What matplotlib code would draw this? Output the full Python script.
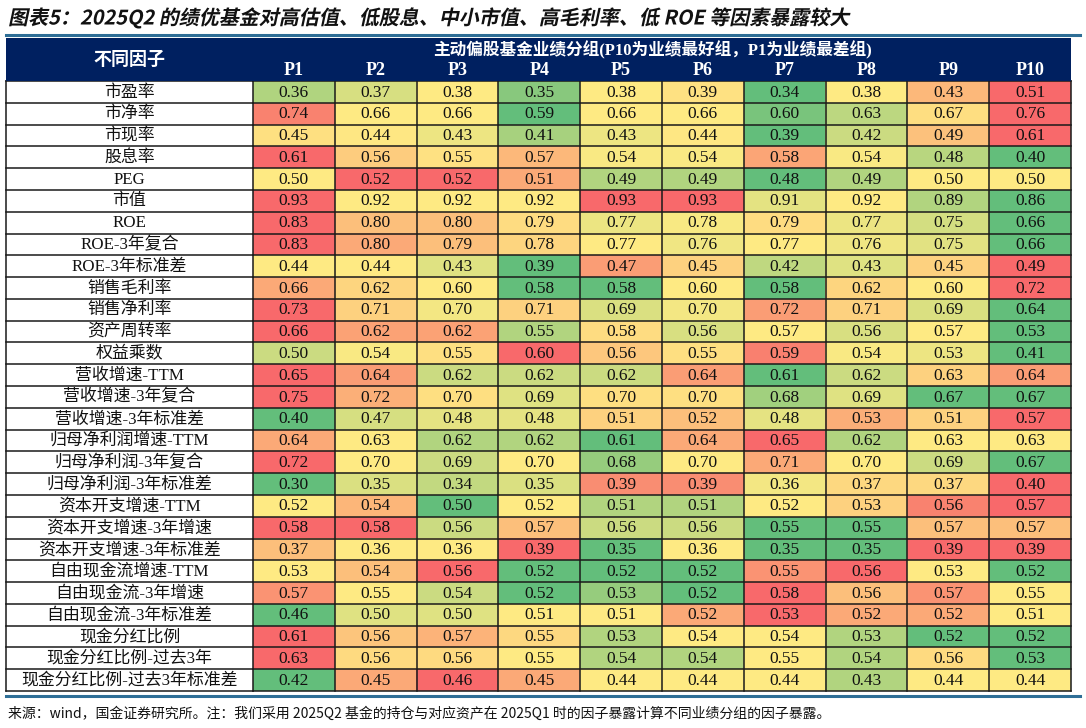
import numpy as np
import matplotlib
matplotlib.use("Agg")
import matplotlib.pyplot as plt
from matplotlib.colors import LinearSegmentedColormap
from matplotlib.transforms import blended_transform_factory, Affine2D, IdentityTransform
from matplotlib.textpath import TextPath
from matplotlib.patches import PathPatch
from matplotlib.font_manager import FontProperties

# ---------------- data ----------------
title = "图表5：2025Q2 的绩优基金对高估值、低股息、中小市值、高毛利率、低 ROE 等因素暴露较大"
footnote = "来源：wind，国金证券研究所。注：我们采用 2025Q2 基金的持仓与对应资产在 2025Q1 时的因子暴露计算不同业绩分组的因子暴露。"
header_left = "不同因子"
header_span = "主动偏股基金业绩分组(P10为业绩最好组，P1为业绩最差组)"
groups = ["P1", "P2", "P3", "P4", "P5", "P6", "P7", "P8", "P9", "P10"]

factors = [
    "市盈率", "市净率", "市现率", "股息率", "PEG", "市值", "ROE", "ROE-3年复合",
    "ROE-3年标准差", "销售毛利率", "销售净利率", "资产周转率", "权益乘数",
    "营收增速-TTM", "营收增速-3年复合", "营收增速-3年标准差", "归母净利润增速-TTM",
    "归母净利润-3年复合", "归母净利润-3年标准差", "资本开支增速-TTM",
    "资本开支增速-3年增速", "资本开支增速-3年标准差", "自由现金流增速-TTM",
    "自由现金流-3年增速", "自由现金流-3年标准差", "现金分红比例",
    "现金分红比例-过去3年", "现金分红比例-过去3年标准差",
]

exposure = [
    [0.36, 0.37, 0.38, 0.35, 0.38, 0.39, 0.34, 0.38, 0.43, 0.51],
    [0.74, 0.66, 0.66, 0.59, 0.66, 0.66, 0.60, 0.63, 0.67, 0.76],
    [0.45, 0.44, 0.43, 0.41, 0.43, 0.44, 0.39, 0.42, 0.49, 0.61],
    [0.61, 0.56, 0.55, 0.57, 0.54, 0.54, 0.58, 0.54, 0.48, 0.40],
    [0.50, 0.52, 0.52, 0.51, 0.49, 0.49, 0.48, 0.49, 0.50, 0.50],
    [0.93, 0.92, 0.92, 0.92, 0.93, 0.93, 0.91, 0.92, 0.89, 0.86],
    [0.83, 0.80, 0.80, 0.79, 0.77, 0.78, 0.79, 0.77, 0.75, 0.66],
    [0.83, 0.80, 0.79, 0.78, 0.77, 0.76, 0.77, 0.76, 0.75, 0.66],
    [0.44, 0.44, 0.43, 0.39, 0.47, 0.45, 0.42, 0.43, 0.45, 0.49],
    [0.66, 0.62, 0.60, 0.58, 0.58, 0.60, 0.58, 0.62, 0.60, 0.72],
    [0.73, 0.71, 0.70, 0.71, 0.69, 0.70, 0.72, 0.71, 0.69, 0.64],
    [0.66, 0.62, 0.62, 0.55, 0.58, 0.56, 0.57, 0.56, 0.57, 0.53],
    [0.50, 0.54, 0.55, 0.60, 0.56, 0.55, 0.59, 0.54, 0.53, 0.41],
    [0.65, 0.64, 0.62, 0.62, 0.62, 0.64, 0.61, 0.62, 0.63, 0.64],
    [0.75, 0.72, 0.70, 0.69, 0.70, 0.70, 0.68, 0.69, 0.67, 0.67],
    [0.40, 0.47, 0.48, 0.48, 0.51, 0.52, 0.48, 0.53, 0.51, 0.57],
    [0.64, 0.63, 0.62, 0.62, 0.61, 0.64, 0.65, 0.62, 0.63, 0.63],
    [0.72, 0.70, 0.69, 0.70, 0.68, 0.70, 0.71, 0.70, 0.69, 0.67],
    [0.30, 0.35, 0.34, 0.35, 0.39, 0.39, 0.36, 0.37, 0.37, 0.40],
    [0.52, 0.54, 0.50, 0.52, 0.51, 0.51, 0.52, 0.53, 0.56, 0.57],
    [0.58, 0.58, 0.56, 0.57, 0.56, 0.56, 0.55, 0.55, 0.57, 0.57],
    [0.37, 0.36, 0.36, 0.39, 0.35, 0.36, 0.35, 0.35, 0.39, 0.39],
    [0.53, 0.54, 0.56, 0.52, 0.52, 0.52, 0.55, 0.56, 0.53, 0.52],
    [0.57, 0.55, 0.54, 0.52, 0.53, 0.52, 0.58, 0.56, 0.57, 0.55],
    [0.46, 0.50, 0.50, 0.51, 0.51, 0.52, 0.53, 0.52, 0.52, 0.51],
    [0.61, 0.56, 0.57, 0.55, 0.53, 0.54, 0.54, 0.53, 0.52, 0.52],
    [0.63, 0.56, 0.56, 0.55, 0.54, 0.54, 0.55, 0.54, 0.56, 0.53],
    [0.42, 0.45, 0.46, 0.45, 0.44, 0.44, 0.44, 0.43, 0.44, 0.44],
]

# ---------------- style ----------------
NAVY = "#002060"
RULE = "#2E6E96"
GRID = "#1a1a1a"
cmap = LinearSegmentedColormap.from_list("gyr", ["#63BE7B", "#FFEB84", "#F8696B"])
SERIF_CJK = ["Liberation Serif", "Noto Sans CJK SC"]
SANS_CJK = ["Noto Sans CJK SC", "DejaVu Sans"]

vals = np.array(exposure)
nrow, ncol = vals.shape

# per-row 3-colour scale (min -> green, median -> yellow, max -> red)
t = np.zeros_like(vals)
for i in range(nrow):
    r = vals[i]
    lo, mid, hi = r.min(), np.percentile(r, 50), r.max()
    for j in range(ncol):
        v = r[j]
        if v <= mid:
            t[i, j] = 0.5 * (v - lo) / (mid - lo) if mid > lo else 0.5
        else:
            t[i, j] = 0.5 + 0.5 * (v - mid) / (hi - mid) if hi > mid else 0.5
rgba = cmap(t)

# ---------------- layout ----------------
W, H = 1086, 728
fig = plt.figure(figsize=(W / 100, H / 100), dpi=100)
fig.patch.set_facecolor("white")

def fx(px):
    return px / W

def fy(py):
    return 1 - py / H

X0, XS, X1 = 6, 253, 1071
YTOP, YH, YBOT = 38, 81, 691

# data cells
ax = fig.add_axes([fx(XS), fy(YBOT), fx(X1) - fx(XS), fy(YH) - fy(YBOT)])
ax.imshow(rgba, aspect="auto", extent=(0, ncol, nrow, 0), interpolation="nearest")
ax.set_xlim(0, ncol)
ax.set_ylim(nrow, 0)
ax.axis("off")
for i in range(nrow + 1):
    ax.axhline(i, color=GRID, lw=1.1, clip_on=False)
for j in range(ncol + 1):
    ax.axvline(j, color=GRID, lw=1.1, clip_on=False)
for i in range(nrow):
    for j in range(ncol):
        ax.text(j + 0.5, i + 0.53, f"{vals[i, j]:.2f}", ha="center", va="center",
                fontsize=12.5, family=SERIF_CJK, color="#111111")

# factor label column
axl = fig.add_axes([fx(X0), fy(YBOT), fx(XS) - fx(X0), fy(YH) - fy(YBOT)])
axl.set_xlim(0, 1)
axl.set_ylim(nrow, 0)
axl.axis("off")
for i in range(nrow + 1):
    axl.axhline(i, color=GRID, lw=1.1, clip_on=False)
axl.axvline(0, color=GRID, lw=1.1, clip_on=False)
for i, name in enumerate(factors):
    axl.text(0.5, i + 0.53, name, ha="center", va="center", fontsize=12.2,
             family=SERIF_CJK, color="#111111")

# header
axh = fig.add_axes([fx(X0), fy(YH), fx(X1) - fx(X0), fy(YTOP) - fy(YH)])
axh.set_facecolor(NAVY)
axh.set_xticks([])
axh.set_yticks([])
for s in axh.spines.values():
    s.set_visible(False)
axh.text((XS - X0) / 2 / (X1 - X0), 0.5, header_left, transform=axh.transAxes,
         ha="center", va="center", color="white", fontsize=13,
         family=SANS_CJK, fontweight="bold")
tr = blended_transform_factory(ax.transData, axh.transAxes)
axh.text(ncol / 2 - 0.12, 0.72, header_span, transform=tr, ha="center", va="center",
         color="white", fontsize=12, family=SERIF_CJK, fontweight="bold")
for j, g in enumerate(groups):
    axh.text(j + 0.5, 0.25, g, transform=tr, ha="center", va="center",
             color="white", fontsize=13, family=SERIF_CJK, fontweight="bold")

# rules
fig.add_artist(plt.Line2D([fx(6), fx(1080)], [fy(35), fy(35)], color=RULE, lw=2.2))
fig.add_artist(plt.Line2D([fx(6), fx(1080)], [fy(695.5), fy(695.5)], color=RULE, lw=2.2))

# title (bold, slanted like the reference)
try:
    tp = TextPath((0, 0), title, size=20,
                  prop=FontProperties(family=SANS_CJK, weight="bold"))
    trans = Affine2D().skew_deg(12, 0).translate(8, H - 24.5) + IdentityTransform()
    fig.add_artist(PathPatch(tp, transform=trans, facecolor="#111111",
                             edgecolor="none", lw=0))
except Exception:
    fig.text(fx(8), fy(17), title, ha="left", va="center", fontsize=14.5,
             family=SANS_CJK, fontweight="bold", color="#111111")

fig.text(fx(8), fy(714), footnote, ha="left", va="center", fontsize=10,
         family=SANS_CJK, color="#111111")

fig.savefig("out.png", dpi=100, facecolor="white")
